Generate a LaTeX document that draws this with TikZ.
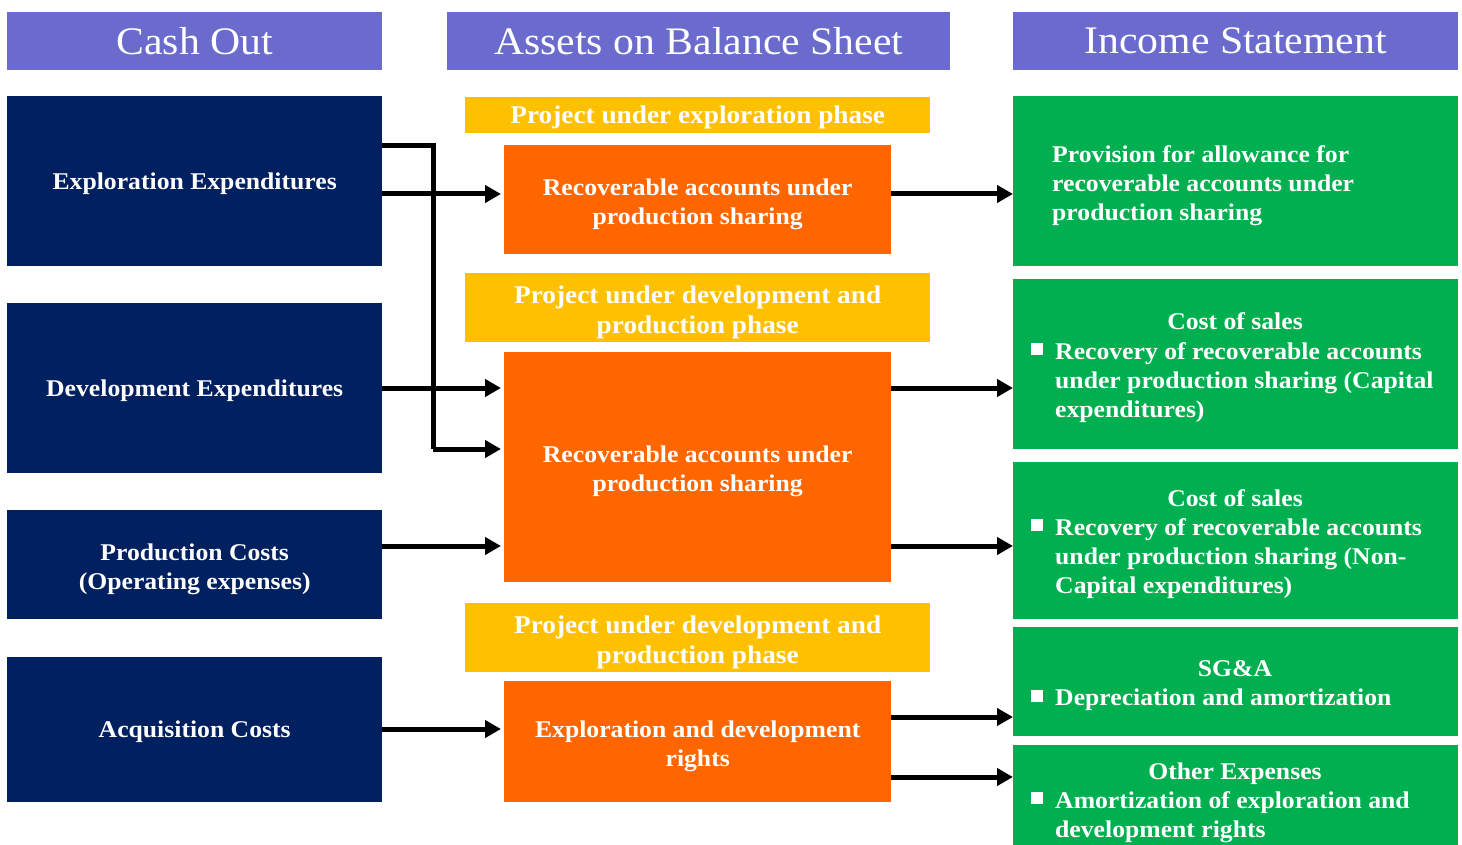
\documentclass[tikz,border=0pt]{standalone}
\usepackage{fontspec}
\setmainfont{Liberation Serif}[FakeStretch=1.07]
\usetikzlibrary{arrows.meta,calc}
\definecolor{hdrc}{HTML}{6B6BCD}
\definecolor{navyc}{HTML}{002060}
\definecolor{yelc}{HTML}{FFC000}
\definecolor{orgc}{HTML}{FF6600}
\definecolor{grnc}{HTML}{00B050}
\newcommand{\topstrut}{\rule{0pt}{24pt}}
\newcommand{\botstrut}{\rule[-8pt]{0pt}{8pt}}
\tikzset{
  box/.style={anchor=north west, inner sep=0pt, text=white, align=center, font=\fontsize{24}{29}\selectfont\bfseries,
    execute at begin node=\topstrut, execute at end node=\botstrut},
  lbl/.style={inner sep=0pt, text=white, align=center, font=\fontsize{24}{29}\selectfont\bfseries},
  ylbl/.style={lbl, font=\fontsize{25.5}{30}\selectfont\bfseries},
  hdr/.style={anchor=north west, inner sep=0pt, text=white, align=center, fill=hdrc, minimum height=58pt, font=\fontsize{39}{42}\selectfont},
  navy/.style={box, fill=navyc, minimum width=375pt},
  yel/.style={box, fill=yelc, minimum width=465pt, font=\fontsize{25.5}{30}\selectfont\bfseries},
  org/.style={box, fill=orgc, minimum width=387pt},
  grn/.style={anchor=north west, inner sep=0pt, fill=grnc, minimum width=445pt},
  gtxt/.style={inner sep=0pt, text=white, align=left, font=\fontsize{24}{29}\selectfont\bfseries,
    execute at begin node=\topstrut, execute at end node=\botstrut},
  gml/.style={inner sep=0pt, text=white, align=left, font=\fontsize{24}{29}\selectfont\bfseries},
  gbul/.style={fill=white, minimum size=12pt, inner sep=0pt},
  arr/.style={line width=5pt, -{Triangle[length=16pt,width=17pt]}},
  conn/.style={line width=5pt, line join=miter}
}
\begin{document}
\begin{tikzpicture}[x=1pt,y=-1pt]
\useasboundingbox (0,0) rectangle (1462,845);
% headers
\node[hdr, minimum width=375pt] (h1) at (7,12) {Cash Out};
\node[hdr, minimum width=503pt] (h2) at (447,12) {Assets on Balance Sheet};
\node[hdr, minimum width=445pt] (h3) at (1013,12) {Income Statement};
% cash out boxes
\node[navy, minimum height=170pt] (ex) at (7,96) {Exploration Expenditures};
\node[navy, minimum height=170pt] (dv) at (7,303) {Development Expenditures};
\node[navy, minimum height=109pt] (pc) at (7,510) {};
\node[lbl] (pct) at ($(pc.center)+(0,5)$) {Production Costs\\(Operating expenses)};
\node[navy, minimum height=145pt] (ac) at (7,657) {Acquisition Costs};
% yellow labels
\node[yel, minimum height=36pt] (y1) at (465,97) {Project under exploration phase};
\node[yel, minimum height=69pt] (y2) at (465,273) {};
\node[ylbl] (y2t) at ($(y2.center)+(0,4.5)$) {Project under development and\\production phase};
\node[yel, minimum height=69pt] (y3) at (465,603) {};
\node[ylbl] (y3t) at ($(y3.center)+(0,4.5)$) {Project under development and\\production phase};
% orange boxes
\node[org, minimum height=109pt] (o1) at (504,145) {};
\node[lbl] (o1t) at ($(o1.center)+(0,4.5)$) {Recoverable accounts under\\production sharing};
\node[org, minimum height=230pt] (o2) at (504,352) {};
\node[lbl] (o2t) at ($(o2.center)+(0,4.5)$) {Recoverable accounts under\\production sharing};
\node[org, minimum height=121pt] (o3) at (504,681) {};
\node[lbl] (o3t) at ($(o3.center)+(0,4.5)$) {Exploration and development\\rights};
% green boxes
\node[grn, minimum height=170pt] (g1) at (1013,96) {};
\node[grn, minimum height=170pt] (g2) at (1013,279) {};
\node[grn, minimum height=157pt] (g3) at (1013,462) {};
\node[grn, minimum height=109pt] (g4) at (1013,627) {};
\node[grn, minimum height=100pt] (g5) at (1013,745) {};
% green texts
\node[gml, anchor=west] (t1) at (1052,186) {Provision for allowance for\\recoverable accounts under\\production sharing};
\node[gtxt] (t2h) at (1235,321) {Cost of sales};
\node[gbul] (b2) at (1037,349) {};
\node[gml, anchor=west] (t2) at (1055,383) {Recovery of recoverable accounts\\under production sharing (Capital\\expenditures)};
\node[gtxt] (t3h) at (1235,498) {Cost of sales};
\node[gbul] (b3) at (1037,525) {};
\node[gml, anchor=west] (t3) at (1055,559) {Recovery of recoverable accounts\\under production sharing (Non-\\Capital expenditures)};
\node[gtxt] (t4h) at (1235,668) {SG\&A};
\node[gbul] (b4) at (1037,696) {};
\node[gtxt, anchor=west] (t4) at (1055,697) {Depreciation and amortization};
\node[gtxt] (t5h) at (1235,771) {Other Expenses};
\node[gbul] (b5) at (1037,798) {};
\node[gml, anchor=west] (t5) at (1055,817.5) {Amortization of exploration and\\development rights};
% connectors
\coordinate (j1) at (433,146);
\coordinate (j2) at (433,449);
\draw[conn] ($(ex.north east)+(0,50)$) -- (j1) -- (j2);
\draw[arr] (j2) -- ($(o2.north west)+(-3,97)$);
\draw[arr] ($(ex.north east)+(0,98)$) coordinate (a1) -- ($(a1 -| o1.west)+(-3,0)$);
\draw[arr] ($(dv.north east)+(0,85)$) coordinate (a2) -- ($(a2 -| o2.west)+(-3,0)$);
\draw[arr] ($(pc.north east)+(0,36)$) coordinate (a3) -- ($(a3 -| o2.west)+(-3,0)$);
\draw[arr] ($(ac.north east)+(0,72)$) coordinate (a4) -- ($(a4 -| o3.west)+(-3,0)$);
\draw[arr] ($(o1.north east)+(0,49)$) coordinate (b1) -- (b1 -| g1.west);
\draw[arr] ($(o2.north east)+(0,36)$) coordinate (c1) -- (c1 -| g2.west);
\draw[arr] ($(o2.north east)+(0,194)$) coordinate (c2) -- (c2 -| g3.west);
\draw[arr] ($(o3.north east)+(0,36)$) coordinate (d1) -- (d1 -| g4.west);
\draw[arr] ($(o3.north east)+(0,96)$) coordinate (d2) -- (d2 -| g5.west);
\end{tikzpicture}
\end{document}
